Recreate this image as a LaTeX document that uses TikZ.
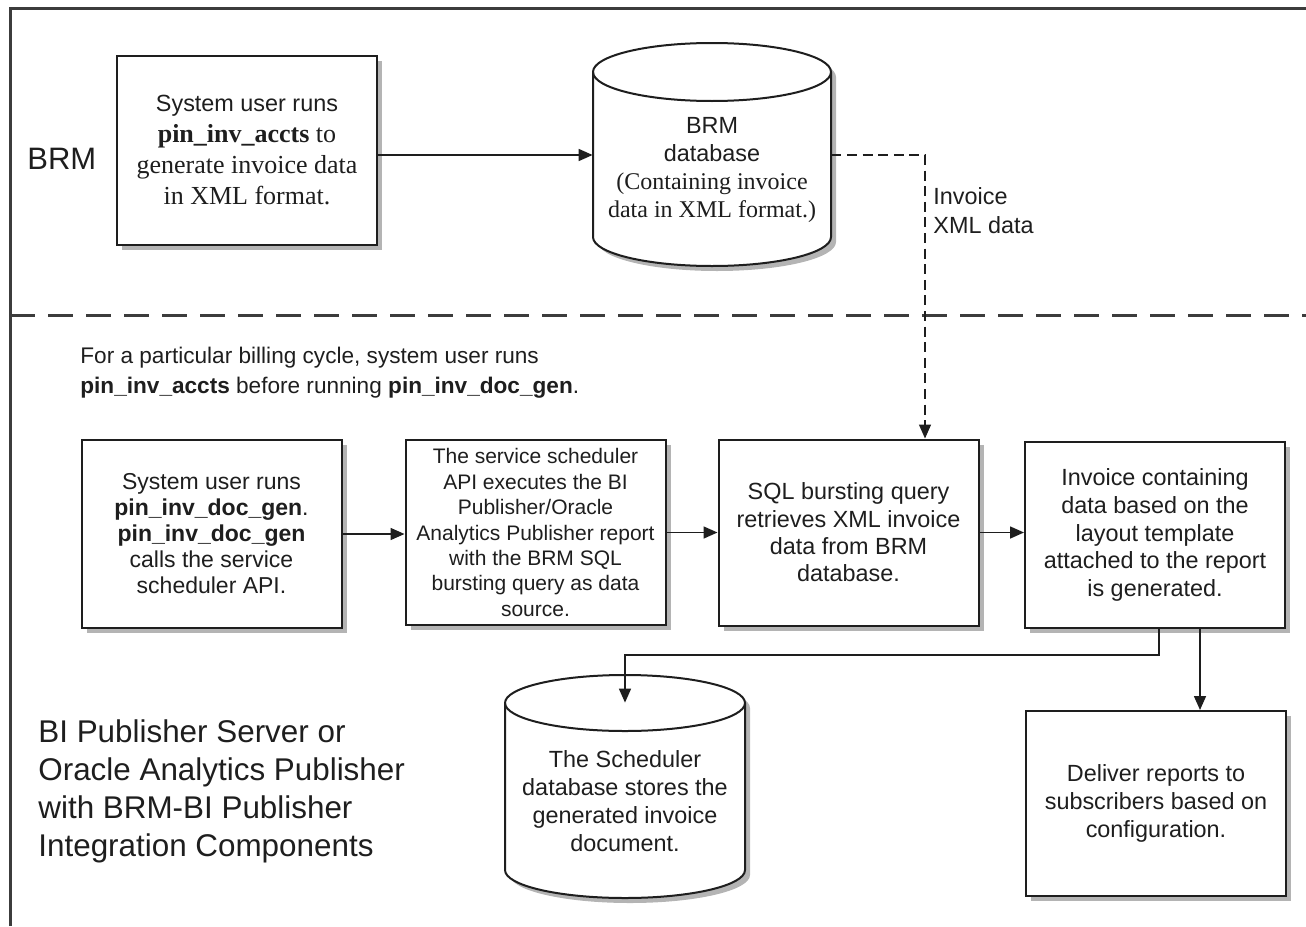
\documentclass[tikz,border=0pt]{standalone}
\usepackage{fontspec}
\setmainfont{Liberation Sans}
\newfontfamily\serif{Liberation Serif}
\newfontfamily\sans{Liberation Sans}
\usetikzlibrary{arrows.meta,shadows,calc}
\definecolor{ink}{HTML}{1E1E1E}
\definecolor{framec}{HTML}{3C3C3C}
\definecolor{shadowc}{HTML}{B4B4B4}
\begin{document}
\begin{tikzpicture}[x=0.5pt,y=-0.5pt,
  box/.style={draw=ink, line width=1pt, fill=white, minimum width=130pt, inner sep=0pt,
    align=center, text=ink,
    drop shadow={shadow xshift=2.5pt,shadow yshift=-2.5pt,fill=shadowc,opacity=1}},
  txt/.style={text=ink, inner sep=0pt},
  arr/.style={draw=ink, line width=0.8pt, -{Triangle[length=7pt,width=6pt]}},
  dconn/.style={draw=ink, line width=0.7pt, dash pattern=on 5pt off 2.8pt, -{Triangle[length=7pt,width=6pt]}},
  frame/.style={draw=framec, line width=1.5pt},
  sep/.style={draw=framec, line width=1.5pt, dash pattern=on 12.5pt off 6.5pt},
  cylline/.style={draw=ink, line width=1pt}
]
\useasboundingbox (0,0) rectangle (1306,926);

% frame and separator
\draw[frame] (10,926) -- (10,8) -- (1306,8);
\draw[sep] (10,315) -- (1306,315);

% ---------- cylinder 1 (BRM database) ----------
\fill[shadowc, xshift=2.5pt, yshift=-2.5pt] (593,72) -- (593,237)
  arc[start angle=180,end angle=360,x radius=59.5pt,y radius=14.5pt] -- (831,72)
  arc[start angle=0,end angle=180,x radius=59.5pt,y radius=14.5pt] -- cycle;
\filldraw[cylline, fill=white] (593,72) -- (593,237)
  arc[start angle=180,end angle=360,x radius=59.5pt,y radius=14.5pt] -- (831,72)
  arc[start angle=0,end angle=180,x radius=59.5pt,y radius=14.5pt] -- cycle;
\draw[cylline] (593,72) arc[start angle=180,end angle=360,x radius=59.5pt,y radius=14.5pt];
\node[inner sep=0pt, minimum width=119pt, minimum height=83pt] (db1) at (712,155) {};

% ---------- cylinder 2 (Scheduler database) ----------
\fill[shadowc, xshift=2.5pt, yshift=-2.5pt] (505,703) -- (505,870)
  arc[start angle=180,end angle=360,x radius=60pt,y radius=14pt] -- (745,703)
  arc[start angle=0,end angle=180,x radius=60pt,y radius=14pt] -- cycle;
\filldraw[cylline, fill=white] (505,703) -- (505,870)
  arc[start angle=180,end angle=360,x radius=60pt,y radius=14pt] -- (745,703)
  arc[start angle=0,end angle=180,x radius=60pt,y radius=14pt] -- cycle;
\draw[cylline] (505,703) arc[start angle=180,end angle=360,x radius=60pt,y radius=14pt];
\node[inner sep=0pt, minimum width=120pt, minimum height=83.5pt] (db2) at (625,786.5) {};

% ---------- labels ----------
\node[txt, anchor=west, font=\fontsize{15.5}{19}\selectfont] (brmlbl) at (27,159) {BRM};
\node[txt, anchor=west, align=left, font=\fontsize{15.7}{19}\selectfont] (bilbl) at (38,791)
  {BI Publisher Server or\\Oracle Analytics Publisher\\with BRM-BI Publisher\\Integration Components};
\node[txt, anchor=west, align=left, font=\fontsize{11.3}{15}\selectfont] (note) at (80,373)
  {For a particular billing cycle, system user runs\\\textbf{pin\_inv\_accts} before running \textbf{pin\_inv\_doc\_gen}.};

% ---------- top box ----------
\node[box, minimum height=94.5pt, font=\serif\fontsize{13}{15.5}\selectfont] (brmbox) at (247,150.5)
  {{\sans\fontsize{11.7}{15.5}\selectfont System user runs}\\\textbf{pin\_inv\_accts} to\\generate invoice data\\in XML format.};

% cylinder texts
\node[txt, align=center, font=\fontsize{11.7}{14}\selectfont] (db1t) at (712,170)
  {BRM\\database\\{\serif\fontsize{12}{14}\selectfont (Containing invoice}\\{\serif\fontsize{12}{14}\selectfont data in XML format.)}};
\node[txt, align=center, font=\fontsize{11.7}{14}\selectfont] (db2t) at (625,801)
  {The Scheduler\\database stores the\\generated invoice\\document.};

% ---------- bottom boxes ----------
\node[box, minimum height=94pt, font=\fontsize{11.5}{13}\selectfont] (boxA) at (211.5,534)
  {System user runs\\\textbf{pin\_inv\_doc\_gen}.\\\textbf{pin\_inv\_doc\_gen}\\calls the service\\scheduler API.};
\node[box, minimum height=92.5pt, font=\fontsize{10.5}{12.7}\selectfont] (boxB) at (535.5,532.5)
  {The service scheduler\\API executes the BI\\Publisher/Oracle\\Analytics Publisher report\\with the BRM SQL\\bursting query as data\\source.};
\node[box, minimum height=93pt, font=\fontsize{11.7}{13.7}\selectfont] (boxC) at (848.5,532.5)
  {SQL bursting query\\retrieves XML invoice\\data from BRM\\database.};
\node[box, minimum height=93pt, font=\fontsize{11.7}{13.8}\selectfont] (boxD) at (1155,535)
  {Invoice containing\\data based on the\\layout template\\attached to the report\\is generated.};
\node[box, minimum height=92.5pt, font=\fontsize{11.7}{14.2}\selectfont] (boxE) at (1156,803.5)
  {Deliver reports to\\subscribers based on\\configuration.};

% ---------- connectors ----------
\draw[arr] (brmbox.east |- db1.west) -- (db1.west);
\coordinate (bend) at (925,155);
\draw[dconn] (db1.east) -- (bend) -- (bend |- boxC.north);
\node[txt, anchor=west, align=left, font=\fontsize{11.7}{14.5}\selectfont] (xmllbl) at (933,211)
  {Invoice\\XML data};

\draw[arr] (boxA.east) -- (boxA.east -| boxB.west);
\draw[arr] (boxB.east) -- (boxB.east -| boxC.west);
\draw[arr] (boxC.east) -- (boxC.east -| boxD.west);

\coordinate (d1) at ($(boxD.south)+(4,0)$);
\coordinate (d2) at ($(boxD.south)+(45,0)$);
\draw[arr] (d1) -- ++(0,26) -| (db2.north);
\draw[arr] (d2) -- (d2 |- boxE.north);
\end{tikzpicture}
\end{document}
